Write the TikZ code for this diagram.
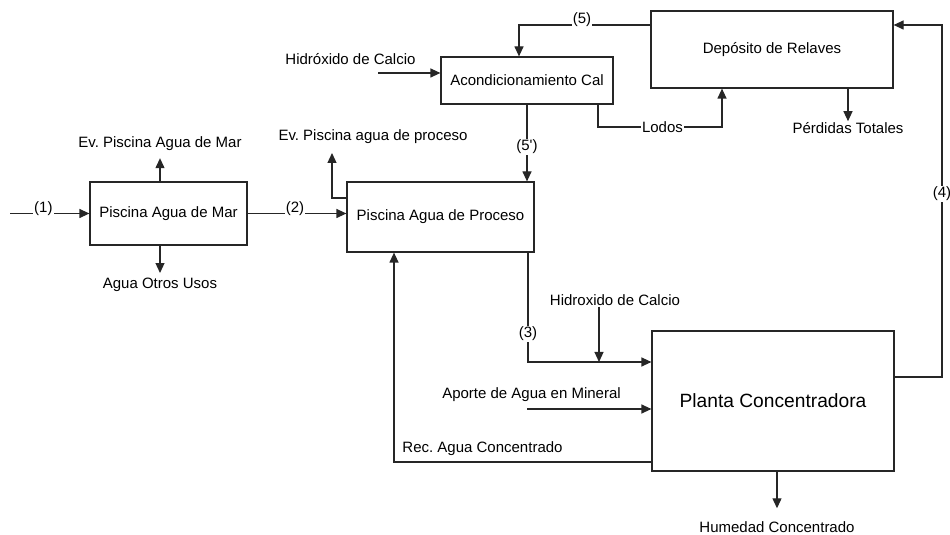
\documentclass[tikz,border=0pt]{standalone}
\usepackage{fontspec}
\setmainfont{Liberation Sans}
\usepackage{xcolor}
\usepackage{tikz}
\usetikzlibrary{arrows.meta, positioning}
\tikzstyle{arrow} = [
    line width=1.2pt,
    draw=black!85,
    -{Triangle[length=10pt,width=9pt]}
]
\tikzstyle{box} = [
    draw=black!85,
    line width=1.2pt,
    rectangle,
    inner sep=0pt,
    font=\fontsize{15}{18}\selectfont
]
\tikzstyle{lbl} = [
    inner sep=1pt,
    font=\fontsize{15}{18}\selectfont
]
\tikzstyle{num} = [
    fill=white,
    inner sep=1pt,
    font=\fontsize{15}{18}\selectfont
]

\begin{document}
\frenchspacing
\begin{tikzpicture}[x=1pt,y=1pt]

\useasboundingbox (0,0) rectangle (950,535);

\node[box, minimum width=157pt, minimum height=63pt] (mar) at (168.5,321.5) {Piscina Agua de Mar};

\node[box, minimum width=187pt, minimum height=70pt] (proceso) at (440.5,318) {Piscina Agua de Proceso};

\node[box, minimum width=172pt, minimum height=47pt] (acond) at (527,454.5) {Acondicionamiento Cal};

\node[box, minimum width=242pt, minimum height=77pt] (deposito) at (772,485.5) {Depósito de Relaves};

\node[box, minimum width=242pt, minimum height=140pt, font=\fontsize{19.2}{23}\selectfont] (planta) at (773,134) {Planta Concentradora};

\node[lbl] (evmar) at (160,391) {Ev. Piscina Agua de Mar};

\node[lbl] (otros) at (160,250) {Agua Otros Usos};

\node[lbl] (evproc) at (373,398) {Ev. Piscina agua de proceso};

\node[lbl] (hidro1) at (350.5,476) {Hidróxido de Calcio};

\node[lbl] (perd) at (848,407) {Pérdidas Totales};

\node[lbl] (hidro2) at (615,235) {Hidroxido de Calcio};

\node[lbl] (aporte) at (531.5,140) {Aporte de Agua en Mineral};

\node[lbl] (rec) at (482.5,86) {Rec. Agua Concentrado};

\node[lbl] (hum) at (777,8) {Humedad Concentrado};

\coordinate (in1) at (10,321.5);
\coordinate (evp) at (332,382);
\coordinate (h1) at (378,462);
\coordinate (lod) at (722,408);
\coordinate (r4) at (942,510);
\coordinate (j3) at (599,173);
\coordinate (ap) at (527,126);

% entradas y salidas de la piscina de agua de mar
\draw[arrow] (in1) -- (mar.west) node[num, pos=0.42, yshift=5pt] {(1)};

\draw[arrow] (mar.north -| evmar) -- ([yshift=-6pt]evmar.south);

\draw[arrow] (mar.south -| otros) -- ([yshift=4pt]otros.north);

\draw[arrow] (mar.east) -- (mar.east -| proceso.west) node[num, pos=0.48, yshift=5pt] {(2)};

\draw[arrow] ([yshift=19pt]proceso.west) -| (evp);

% circuito de relaves
\draw[arrow] (h1) -- (h1 -| acond.west);

\draw[arrow] ([yshift=24.5pt]deposito.west) -| ([xshift=-8pt]acond.north) node[num, pos=0.26, yshift=5pt] {(5)};

\draw[arrow] (acond.south) -- (acond.south |- proceso.north) node[num, pos=0.55] {(5\textquotesingle)};

\draw[arrow] ([xshift=71pt]acond.south) |- (lod) node[num, pos=0.76] {Lodos} -- ([xshift=-50pt]deposito.south);

\draw[arrow] (deposito.south -| perd) -- (perd.north);

\draw[arrow] ([yshift=24pt]planta.east) -| (r4) node[num, pos=0.76] {(4)} -- (r4 -| deposito.east);

% planta concentradora
\draw[arrow] ([xshift=87.5pt]proceso.south) |- ([yshift=39pt]planta.west) node[num, pos=0.37] {(3)};

\draw[arrow] (hidro2.south -| j3) -- (j3);

\draw[arrow] (ap) -- (ap -| planta.west);

\draw[arrow] ([yshift=-61pt]planta.west) -| ([xshift=-46.5pt]proceso.south);

\draw[arrow] (planta.south -| hum) -- ([yshift=12pt]hum.north);

\end{tikzpicture}
\end{document}
